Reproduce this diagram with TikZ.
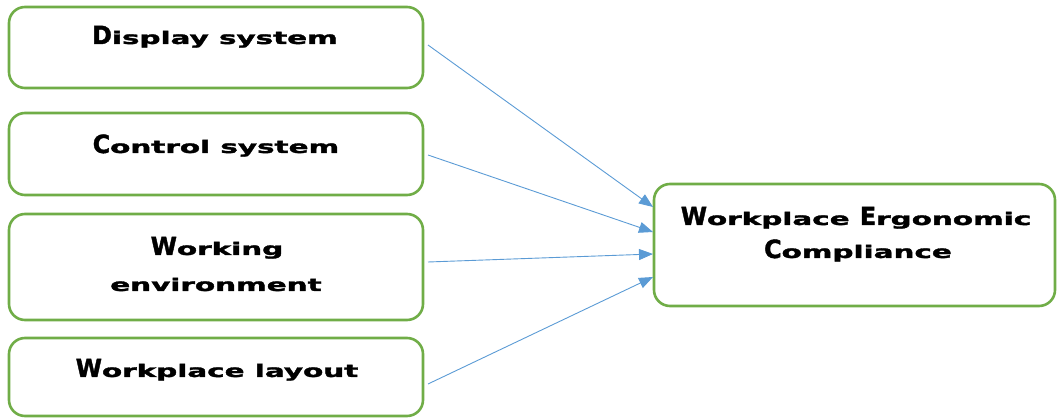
\documentclass[tikz,border=0pt]{standalone}
\usepackage{graphicx}
\usepackage{fontspec}
\newfontfamily\lblfont[FakeBold=1.6]{DejaVu Sans}
\usetikzlibrary{arrows.meta}
\definecolor{boxgreen}{RGB}{112,173,71}
\definecolor{arrblue}{RGB}{91,155,213}
\newcommand\capl[1]{\scalebox{0.56}[1]{\fontsize{25}{28}\selectfont #1}}
\newcommand\wide[1]{\scalebox{1.7}[1]{#1}}
\tikzset{
  factor/.style={draw=boxgreen, line width=2.6pt, rounded corners=16pt, fill=white},
  lbl/.style={font=\lblfont\bfseries\fontsize{17.3}{30}\selectfont, anchor=base, inner sep=0pt},
  link/.style={draw=arrblue, line width=0.9pt, -{Triangle[length=14pt,width=11pt]}}
}
\begin{document}
\begin{tikzpicture}[x=1pt,y=-1pt]
\useasboundingbox (0,0) rectangle (1057,419);
\node[factor, minimum width=414pt, minimum height=81pt] (b1) at (216,47.5) {};
\node[factor, minimum width=414pt, minimum height=82pt] (b2) at (216,154) {};
\node[factor, minimum width=414pt, minimum height=106pt] (b3) at (216,267) {};
\node[factor, minimum width=414pt, minimum height=78pt] (b4) at (216,377) {};
\node[factor, minimum width=401pt, minimum height=122pt] (r) at (854.5,245) {};
\node[lbl] (t1) at (215,44) {\wide{\capl{D}isplay system}};
\node[lbl] (t2) at (216,153) {\wide{\capl{C}ontrol system}};
\node[lbl] (t3a) at (217,255) {\wide{\capl{W}orking}};
\node[lbl] (t3b) at (216,291) {\wide{environment}};
\node[lbl] (t4) at (217,377) {\wide{\capl{W}orkplace layout}};
\node[lbl] (tra) at (856,225) {\wide{\capl{W}orkplace \capl{E}rgonomic}};
\node[lbl] (trb) at (858,258) {\wide{\capl{C}ompliance}};
\coordinate (s1) at (428,45);
\coordinate (s2) at (428,155);
\coordinate (s3) at (428,262);
\coordinate (s4) at (428,384);
\coordinate (e1) at (653,207);
\coordinate (e2) at (653,232);
\coordinate (e3) at (653,254);
\coordinate (e4) at (653,277);
\draw[link] (s1) -- (e1);
\draw[link] (s2) -- (e2);
\draw[link] (s3) -- (e3);
\draw[link] (s4) -- (e4);
\end{tikzpicture}
\end{document}
